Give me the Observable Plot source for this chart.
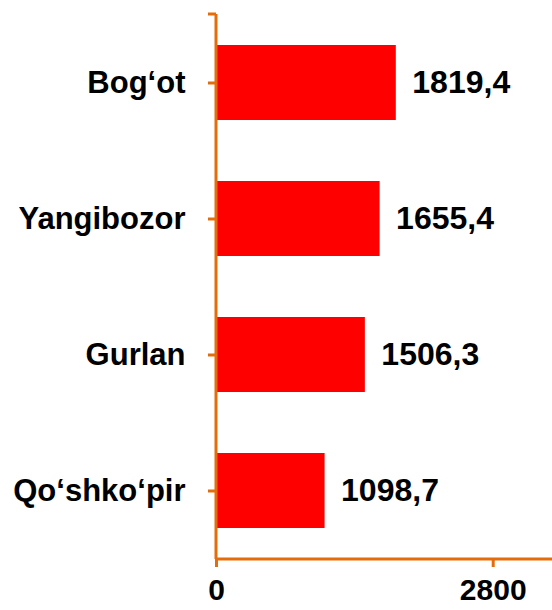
<!DOCTYPE html>
<html>
<head>
<meta charset="utf-8">
<script src="https://cdn.jsdelivr.net/npm/d3@7"></script>
<script src="https://cdn.jsdelivr.net/npm/@observablehq/plot@0.6"></script>
<style>
  html, body { margin: 0; padding: 0; background: #fff; }
  #chart svg { display: block; }
</style>
</head>
<body>
<div id="chart"></div>
<script>
const categories = ["Bog‘ot", "Yangibozor", "Gurlan", "Qo‘shko‘pir"];
const values = [1819.4, 1655.4, 1506.3, 1098.7];
const xTicks = [0, 2800];

const data = categories.map((c, i) => ({name: c, value: values[i]}));
const orange = "#E46C0A";
const fmt = v => v.toFixed(1).replace(".", ",");

const axisLines = (index, scales, values, dim) => {
  const g = d3.create("svg:g");
  const x0 = scales.x(0);
  const top = dim.marginTop;
  const bottom = dim.height - dim.marginBottom;
  g.append("line").attr("x1", x0).attr("x2", x0).attr("y1", top).attr("y2", bottom)
    .attr("stroke", orange).attr("stroke-width", 3);
  g.append("line").attr("x1", x0 - 8).attr("x2", x0).attr("y1", top).attr("y2", top)
    .attr("stroke", orange).attr("stroke-width", 3);
  g.append("line").attr("x1", x0).attr("x2", dim.width).attr("y1", bottom).attr("y2", bottom)
    .attr("stroke", orange).attr("stroke-width", 3);
  return g.node();
};

const chart = Plot.plot({
  width: 552,
  height: 610,
  marginLeft: 216,
  marginRight: 0,
  marginTop: 14,
  marginBottom: 51,
  style: {fontFamily: "'Liberation Sans', Arial, sans-serif", background: "#fff", color: "#000"},
  x: {domain: [0, 3400], range: [216, 552]},
  y: {domain: categories, paddingInner: 0.45, paddingOuter: 0.225},
  marks: [
    Plot.barX(data, {x: "value", y: "name", fill: "#FF0000"}),
    Plot.text(data, {x: "value", y: "name", text: d => fmt(d.value), textAnchor: "start", dx: 16,
      fontSize: 32, fontWeight: "bold", fill: "#000"}),
    axisLines,
    Plot.axisY({tickSize: 8, tickPadding: 23, stroke: orange, strokeWidth: 3, fontSize: 31,
      fontWeight: "bold", label: null, fill: "#000"}),
    Plot.axisX({ticks: xTicks, tickSize: 8, tickPadding: 11, stroke: orange, strokeWidth: 3,
      fontSize: 30, fontWeight: "bold", label: null, tickFormat: d => String(d), fill: "#000"})
  ]
});
document.getElementById("chart").appendChild(chart);
</script>
</body>
</html>
